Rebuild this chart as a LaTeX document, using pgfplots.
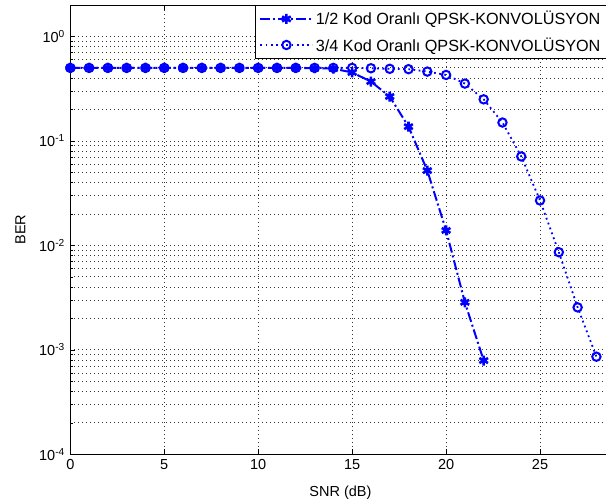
\documentclass[border=0pt]{standalone}
\usepackage{fontspec}
\setmainfont{Liberation Sans}
\usepackage{pgfplots}
\pgfplotsset{compat=1.18}
\definecolor{mblue}{RGB}{0,0,255}
\begin{document}
\begin{tikzpicture}
\begin{axis}[
  scale only axis,
  width=540.2bp, height=449.3bp,
  ymode=log,
  xmin=0, xmax=28.75,
  ymin=1e-4, ymax=2,
  xtick={0,5,10,15,20,25},
  ytick={1e-4,1e-3,1e-2,1e-1,1},
  yticklabels={10\textsuperscript{-4},10\textsuperscript{-3},10\textsuperscript{-2},10\textsuperscript{-1},10\textsuperscript{0}},
  /pgf/number format/assume math mode=true,
  tick label style={font=\fontsize{14.5bp}{16bp}\selectfont},
  xticklabel style={yshift=-2bp},
  yticklabel style={xshift=-2bp},
  axis line style={black, line width=0.8bp},
  tick style={black, line width=0.6bp},
  major tick length=5bp,
  minor tick length=3bp,
  grid=both,
  xminorgrids=false,
  major grid style={black!80, line width=0.8bp, dash pattern=on 0.8bp off 3.2bp},
  minor grid style={black!80, line width=0.8bp, dash pattern=on 0.8bp off 3.2bp},
  every axis x label/.style={at={(rel axis cs:0.5,0)}, yshift=-38.7bp, anchor=center},
  every axis y label/.style={at={(rel axis cs:0,0.5)}, xshift=-50bp, rotate=90, anchor=center},
  label style={font=\fontsize{14.5bp}{16bp}\selectfont},
  xlabel={SNR (dB)},
  ylabel={BER},
  legend cell align=left,
  legend style={at={(rel axis cs:0.342,1)}, anchor=north west, draw=black, line width=0.8bp,
     font=\fontsize{16.2bp}{18bp}\selectfont, inner xsep=4bp, inner ysep=2bp, row sep=3bp,
     nodes={inner ysep=4bp, inner xsep=2.5bp}},
  legend image code/.code={\draw[mark repeat=2,mark phase=2,#1] plot coordinates {(0bp,0bp)(26bp,0bp)(52bp,0bp)};},
]
\addplot[mblue, line width=2bp, dash pattern=on 10bp off 3bp on 2bp off 3bp,
  mark=asterisk, mark size=5bp, mark options={solid, line width=2.6bp}]
  coordinates {
  (0,0.5)(1,0.5)(2,0.5)(3,0.5)(4,0.5)(5,0.5)(6,0.5)(7,0.5)(8,0.5)(9,0.5)
  (10,0.5)(11,0.5)(12,0.499)(13,0.497)(14,0.492)(15,0.452)(16,0.37)(17,0.266)
  (18,0.137)(19,0.052)(20,0.0139)(21,0.00285)(22,0.00079)
  };
\addlegendentry{1/2 Kod Oranlı QPSK-KONVOLÜSYON}
\addplot[mblue, line width=1.8bp, dash pattern=on 1.8bp off 3.4bp,
  mark=o, mark size=4.2bp, mark options={solid, line width=2bp}]
  coordinates {
  (0,0.5)(1,0.5)(2,0.5)(3,0.5)(4,0.5)(5,0.5)(6,0.5)(7,0.5)(8,0.5)(9,0.5)
  (10,0.5)(11,0.5)(12,0.5)(13,0.5)(14,0.5)(15,0.5)(16,0.496)(17,0.49)
  (18,0.486)(19,0.461)(20,0.428)(21,0.354)(22,0.25)(23,0.15)(24,0.071)
  (25,0.0269)(26,0.0086)(27,0.00255)(28,0.00086)
  };
\addlegendentry{3/4 Kod Oranlı QPSK-KONVOLÜSYON}
\coordinate (ll) at (rel axis cs:0,0);
\coordinate (ul) at (rel axis cs:0,1);
\end{axis}
\pgfresetboundingbox
\path[use as bounding box] ([xshift=-70.3bp,yshift=-49.7bp]ll) rectangle ([xshift=535.7bp,yshift=5bp]ul);
\end{tikzpicture}
\end{document}
